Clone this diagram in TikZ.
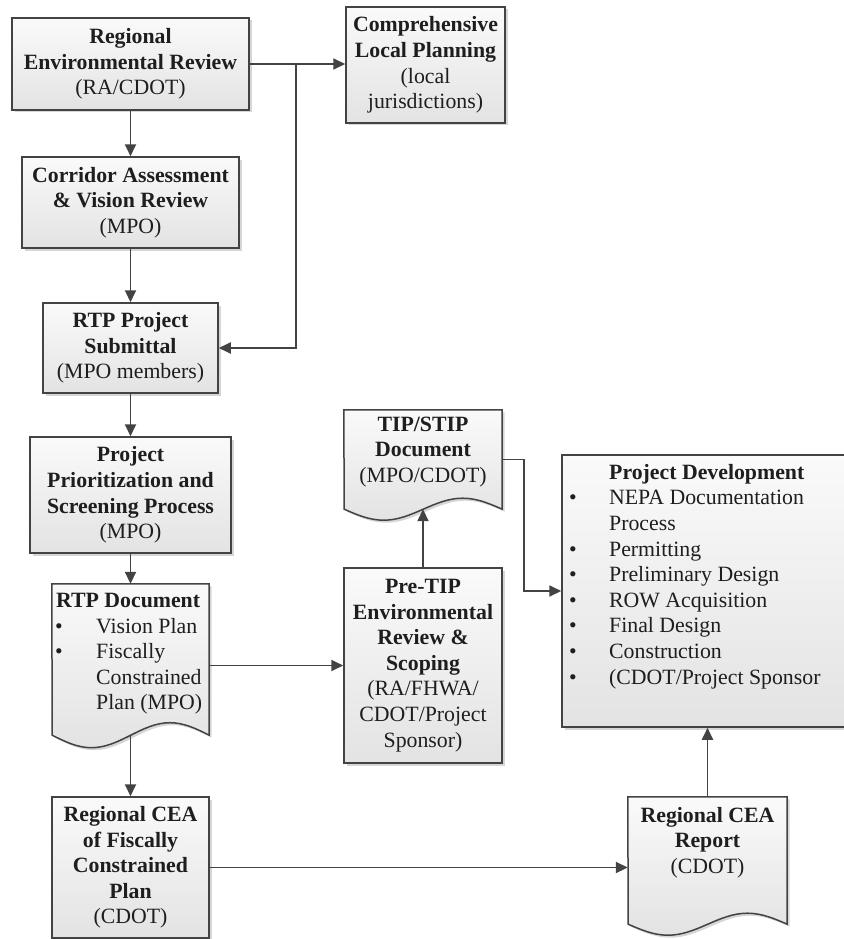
\documentclass[tikz,border=0pt]{standalone}
\usepackage{fontspec}
\setmainfont{Liberation Serif}
\usetikzlibrary{arrows.meta,shadows,calc}
\definecolor{linec}{HTML}{434343}
\definecolor{txtc}{HTML}{1E1E1E}
\begin{document}
\begin{tikzpicture}[x=1pt,y=-1pt,
  every node/.style={font=\fontsize{21.8}{25.6}\selectfont, text=txtc},
  shadowsty/.style={drop shadow={shadow xshift=2.5pt,shadow yshift=-2.5pt,fill=black,opacity=0.16}},
  boxsty/.style={draw=linec, line width=1.5pt, top color=gray!4, bottom color=gray!22, shadowsty, inner sep=0pt, align=center},
  ghost/.style={inner sep=0pt},
  docsty/.style={draw=linec, line width=1.5pt, top color=gray!4, bottom color=gray!22, shadowsty},
  arr/.style={draw=linec, line width=1.8pt, -{Triangle[length=12pt,width=11pt]}},
  lbl/.style={inner sep=0pt, align=center},
]
\fill[white] (0,0) rectangle (843,939);
\useasboundingbox (0,0) rectangle (843,939);

% plain boxes
\node[boxsty, minimum width=237pt, minimum height=92pt] (rer) at (130.5,64)
  {\textbf{Regional}\\\textbf{Environmental Review}\\(RA/CDOT)};
\node[boxsty, minimum width=159pt, minimum height=116pt] (clp) at (425.5,65)
  {\textbf{Comprehensive}\\\textbf{Local Planning}\\(local\\jurisdictions)};
\node[boxsty, minimum width=217pt, minimum height=91pt] (corr) at (130.5,202.5)
  {\textbf{Corridor Assessment}\\\textbf{\& Vision Review}\\(MPO)};
\node[boxsty, minimum width=175pt, minimum height=90pt] (sub) at (130.5,348)
  {\textbf{RTP Project}\\\textbf{Submittal}\\(MPO members)};
\node[boxsty, minimum width=201pt, minimum height=116pt] (prio) at (130.5,495)
  {\textbf{Project}\\\textbf{Prioritization and}\\\textbf{Screening Process}\\(MPO)};
\node[boxsty, minimum width=158pt, minimum height=195pt] (pretip) at (423,665.5)
  {\textbf{Pre-TIP}\\\textbf{Environmental}\\\textbf{Review \&}\\\textbf{Scoping}\\(RA/FHWA/\\CDOT/Project\\Sponsor)};
\node[boxsty, minimum width=157pt, minimum height=141pt] (cea) at (130.5,867.5)
  {\textbf{Regional CEA}\\\textbf{of Fiscally}\\\textbf{Constrained}\\\textbf{Plan}\\(CDOT)};
\node[boxsty, minimum width=290pt, minimum height=272pt] (pd) at (707,591) {};
\node[lbl, anchor=west] (pdtext) at (569,576.5)
  {\begin{tabular}{@{}p{40pt}@{}l@{}}
   & \textbf{Project Development}\\
   \textbullet & NEPA Documentation\\
   & Process\\
   \textbullet & Permitting\\
   \textbullet & Preliminary Design\\
   \textbullet & ROW Acquisition\\
   \textbullet & Final Design\\
   \textbullet & Construction\\
   \textbullet & (CDOT/Project Sponsor
   \end{tabular}};

% document shapes
\node[ghost, minimum width=157pt, minimum height=151pt] (rtpdoc) at (130.5,659.5) {};
\path[docsty] (rtpdoc.north west) -- (rtpdoc.north east) -- (rtpdoc.south east)
  sin ++(-39.25,-12.5) cos ++(-39.25,12.5) sin ++(-39.25,12.5) cos ++(-39.25,-12.5) -- cycle;
\node[lbl, anchor=west] (rtptext) at (55,653.5)
  {\begin{tabular}{@{}p{41pt}@{}l@{}}
   \multicolumn{2}{@{}l@{}}{\hspace{1pt}\textbf{RTP Document}}\\
   \textbullet & Vision Plan\\
   \textbullet & Fiscally\\
   & Constrained\\
   & Plan (MPO)
   \end{tabular}};

\node[ghost, minimum width=158pt, minimum height=99pt] (tip) at (423,459.5) {};
\path[docsty] (tip.north west) -- (tip.north east) -- (tip.south east)
  sin ++(-39.5,-11) cos ++(-39.5,11) sin ++(-39.5,11) cos ++(-39.5,-11) -- cycle;
\node[lbl] (tiptext) at (423,452)
  {\textbf{TIP/STIP}\\\textbf{Document}\\(MPO/CDOT)};

\node[ghost, minimum width=159pt, minimum height=127pt] (report) at (707.5,860.5) {};
\path[docsty] (report.north west) -- (report.north east) -- (report.south east)
  sin ++(-39.75,-11) cos ++(-39.75,11) sin ++(-39.75,11) cos ++(-39.75,-11) -- cycle;
\node[lbl] (reporttext) at (707.5,842.5)
  {\textbf{Regional CEA}\\\textbf{Report}\\(CDOT)};

% connectors
\coordinate (j) at (296,64);
\draw[arr] (rer.east) -- (clp.west |- rer.east);
\draw[arr] (j) |- (sub.east);
\draw[arr] (rer.south) -- (corr.north);
\draw[arr] (corr.south) -- (sub.north);
\draw[arr] (sub.south) -- (prio.north);
\draw[arr] (prio.south) -- (rtpdoc.north);
\draw[arr] (rtpdoc.south) -- (cea.north);
\draw[arr] (pretip.west -| rtpdoc.east) -- (pretip.west);
\draw[arr] (pretip.north) -- (tip.south);
\draw[arr] (tip.east) -- ++(22,0) |- (pd.west);
\draw[arr] (cea.east) -- (cea.east -| report.west);
\draw[arr] (report.north) -- (report.north |- pd.south);
\end{tikzpicture}
\end{document}
